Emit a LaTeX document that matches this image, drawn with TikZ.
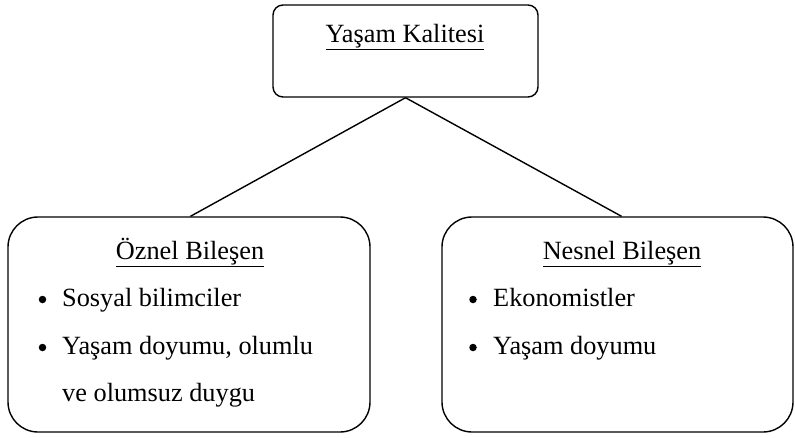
\documentclass[tikz,border=0pt]{standalone}
\usepackage{fontspec}
\setmainfont{Liberation Serif}
\begin{document}
\begin{tikzpicture}[x=1pt,y=-1pt,
  box/.style={draw,line width=1.4pt,inner sep=0pt},
  txt/.style={inner sep=0pt,font=\fontsize{26.3}{31}\selectfont},
  dot/.style={circle,fill,inner sep=0pt,minimum size=7.5pt},
  conn/.style={line width=1.4pt}]
\useasboundingbox (0,0) rectangle (795,437);
% boxes
\node[box,rounded corners=10pt,minimum width=265pt,minimum height=92pt] (top) at (405.5,51) {};
\node[box,rounded corners=30pt,minimum width=362pt,minimum height=215pt] (left) at (189,324.5) {};
\node[box,rounded corners=30pt,minimum width=351pt,minimum height=215pt] (right) at (617.5,324.5) {};
% connectors
\draw[conn] (top.south) -- ([xshift=1.5pt]left.north);
\draw[conn] (top.south) -- ([xshift=4pt]right.north);
% texts
\node[txt,anchor=base] (ttitle) at (405,42) {\underline{Yaşam Kalitesi}};
\node[txt,anchor=base] (lhead) at (190,259) {\underline{Öznel Bileşen}};
\node[txt,anchor=base] (rhead) at (622,259) {\underline{Nesnel Bileşen}};
\node[dot] (lb1) at (42.5,299.5) {};
\node[txt,anchor=base west] (l1) at (62,306) {Sosyal bilimciler};
\node[dot] (lb2) at (42.5,347.5) {};
\node[txt,anchor=base west] (l2) at (62,354) {Yaşam doyumu, olumlu};
\node[txt,anchor=base west] (l3) at (62,401) {ve olumsuz duygu};
\node[dot] (rb1) at (473,299.5) {};
\node[txt,anchor=base west] (r1) at (493,306) {Ekonomistler};
\node[dot] (rb2) at (473,347.5) {};
\node[txt,anchor=base west] (r2) at (493,354) {Yaşam doyumu};
\end{tikzpicture}
\end{document}
